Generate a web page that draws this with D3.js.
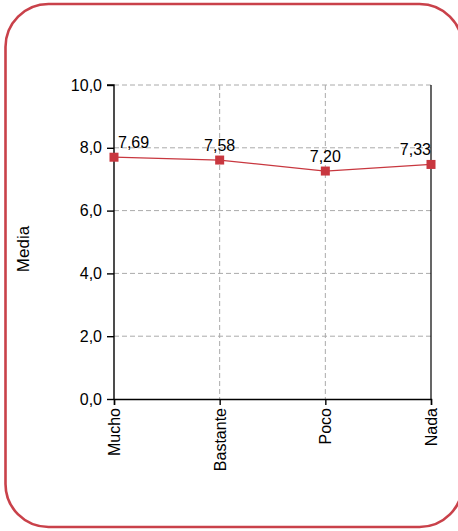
<!DOCTYPE html>
<html>
<head>
<meta charset="utf-8">
<script src="https://cdn.jsdelivr.net/npm/d3@7"></script>
<style>
  html, body { margin: 0; padding: 0; background: #fff; }
  svg { display: block; font-family: "Liberation Sans", Arial, Helvetica, sans-serif; }
</style>
</head>
<body>
<svg id="chart" width="458" height="531"></svg>
<script>
// ---- data ----
const categories = ["Mucho", "Bastante", "Poco", "Nada"];
const values = [7.70, 7.61, 7.26, 7.47];          // plotted positions
const valueLabels = ["7,69", "7,58", "7,20", "7,33"]; // printed data labels
const yTicks = [0, 2, 4, 6, 8, 10];
const yTitle = "Media";

// ---- layout ----
const svg = d3.select("#chart");
const pLeft = 114, pRight = 431, pTop = 85, pBottom = 399;
const red = "#c8373f";

svg.append("rect")
  .attr("x", 5.5).attr("y", 4).attr("width", 457).attr("height", 523)
  .attr("rx", 43).attr("ry", 43)
  .attr("fill", "#fff").attr("stroke", "#c9414a").attr("stroke-width", 2.6);

const x = d3.scalePoint().domain(categories).range([pLeft, pRight]).padding(0);
const y = d3.scaleLinear().domain([0, 10]).range([pBottom, pTop]);
const fmt = v => d3.format(".1f")(v).replace(".", ",");

// grid
const grid = svg.append("g");
grid.selectAll("line.h").data(yTicks.filter(t => t > 0)).join("line")
  .attr("x1", pLeft).attr("x2", pRight)
  .attr("y1", d => y(d)).attr("y2", d => y(d))
  .attr("stroke", "#aaa").attr("stroke-width", 1).attr("stroke-dasharray", "5,3");
grid.selectAll("line.v").data(categories.slice(1, -1)).join("line")
  .attr("x1", d => x(d)).attr("x2", d => x(d))
  .attr("y1", pTop).attr("y2", pBottom)
  .attr("stroke", "#aaa").attr("stroke-width", 1).attr("stroke-dasharray", "5,3");

// right frame line
svg.append("line").attr("x1", pRight).attr("x2", pRight).attr("y1", pTop).attr("y2", pBottom)
  .attr("stroke", "#000").attr("stroke-width", 1.2);

// axes
const yAxis = svg.append("g").attr("transform", `translate(${pLeft},0)`)
  .call(d3.axisLeft(y).tickValues(yTicks).tickFormat(fmt).tickSize(7).tickPadding(5));
const xAxis = svg.append("g").attr("transform", `translate(0,${pBottom})`)
  .call(d3.axisBottom(x).tickSize(6).tickPadding(4));
[yAxis, xAxis].forEach(a => {
  a.select(".domain").attr("stroke", "#000").attr("stroke-width", 1.4);
  a.selectAll(".tick line").attr("stroke", "#000").attr("stroke-width", 1.4);
  a.selectAll("text").attr("font-size", 16).attr("fill", "#000")
    .attr("font-family", "'Liberation Sans', Arial, sans-serif");
});
yAxis.select(".domain").attr("d", `M-7,${pTop}H0V${pBottom}`);
xAxis.selectAll(".tick text")
  .attr("transform", "rotate(-90)")
  .attr("text-anchor", "end")
  .attr("x", -9).attr("y", 0).attr("dy", "0.35em");

// y title
svg.append("text")
  .attr("transform", `translate(29,249) rotate(-90)`)
  .attr("text-anchor", "middle")
  .attr("font-size", 17).attr("fill", "#000")
  .text(yTitle);

// line + markers
const pts = categories.map((c, i) => ({ c, v: values[i], label: valueLabels[i], i }));
svg.append("path").datum(pts)
  .attr("fill", "none").attr("stroke", red).attr("stroke-width", 1.3)
  .attr("d", d3.line().x(d => x(d.c)).y(d => y(d.v)));
svg.selectAll("rect.m").data(pts).join("rect")
  .attr("x", d => x(d.c) - 4.5).attr("y", d => y(d.v) - 4.5)
  .attr("width", 9).attr("height", 9).attr("fill", red);

// data labels
svg.selectAll("text.lab").data(pts).join("text")
  .attr("x", d => d.i === 0 ? x(d.c) + 4 : x(d.c))
  .attr("y", d => y(d.v) - 9.5)
  .attr("text-anchor", d => d.i === 0 ? "start" : (d.i === pts.length - 1 ? "end" : "middle"))
  .attr("font-size", 16).attr("fill", "#000")
  .text(d => d.label);
</script>
</body>
</html>
